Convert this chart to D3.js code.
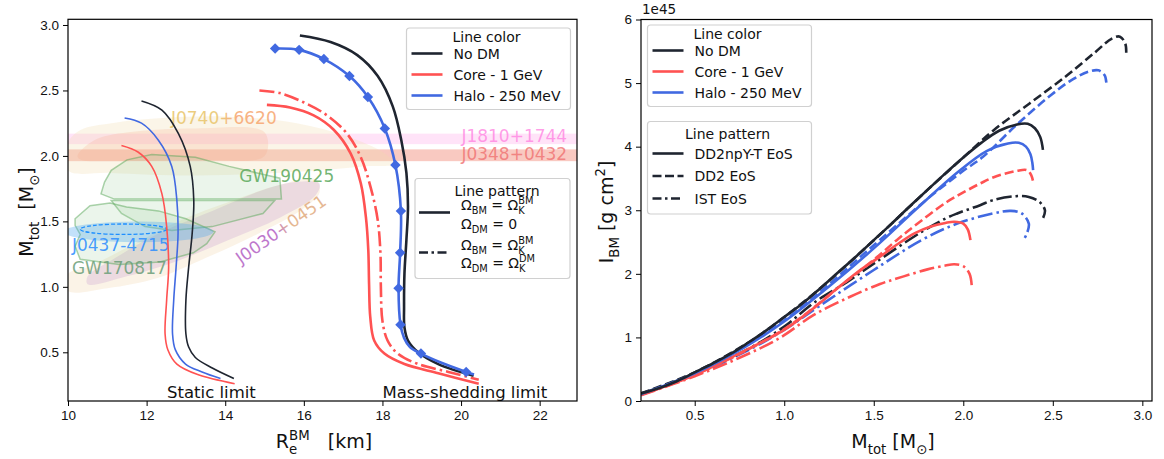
<!DOCTYPE html>
<html>
<head>
<meta charset="utf-8">
<script src="https://cdn.jsdelivr.net/npm/d3@7"></script>
<style>
  body { margin: 0; background: #fff; }
  svg { font-family: "DejaVu Sans", sans-serif; }
</style>
</head>
<body>
<script>
const WIDTH = 1164;
const HEIGHT = 459;

const BLACK = '#1f2530';
const RED = '#ff5252';
const BLUE = '#4169e1';

// ---------- left panel data: M_tot vs R_e ----------
const staticNoDM_R = [11.87, 12.39, 12.81, 13.11, 13.20, 13.16, 13.07, 13.00, 13.00, 13.07, 13.24, 13.67, 14.22];
const staticNoDM_M = [2.42, 2.35, 2.17, 1.92, 1.66, 1.41, 1.15, 0.90, 0.64, 0.54, 0.46, 0.38, 0.30];
const staticHalo_R = [11.44, 11.87, 12.30, 12.64, 12.77, 12.80, 12.75, 12.69, 12.66, 12.73, 12.99, 13.41, 13.88];
const staticHalo_M = [2.29, 2.25, 2.12, 1.92, 1.66, 1.41, 1.15, 0.90, 0.64, 0.52, 0.41, 0.35, 0.30];
const staticCore_R = [11.36, 11.78, 12.13, 12.39, 12.51, 12.56, 12.51, 12.47, 12.54, 12.77, 13.3, 14.24];
const staticCore_M = [2.08, 2.03, 1.92, 1.71, 1.46, 1.15, 0.90, 0.64, 0.52, 0.41, 0.33, 0.26];

const shedNoDM_R = [15.90, 16.68, 17.36, 17.88, 18.26, 18.48, 18.61, 18.65, 18.61, 18.56, 18.55, 18.56, 18.65, 18.91, 19.42, 20.32];
const shedNoDM_M = [2.92, 2.87, 2.77, 2.61, 2.38, 2.12, 1.87, 1.61, 1.36, 1.10, 0.85, 0.69, 0.59, 0.50, 0.41, 0.32];
const shedHalo_R = [15.27, 15.88, 16.51, 17.16, 17.63, 18.06, 18.33, 18.47, 18.45, 18.41, 18.46, 18.55, 18.70, 18.98, 19.5, 20.13, 20.33];
const shedHalo_M = [2.82, 2.81, 2.74, 2.61, 2.45, 2.21, 1.93, 1.58, 1.26, 0.99, 0.71, 0.61, 0.54, 0.49, 0.42, 0.35, 0.33];
const haloMark_R = [15.27, 15.88, 16.51, 17.16, 17.63, 18.06, 18.33, 18.47, 18.45, 18.41, 18.46, 18.98, 20.13];
const haloMark_M = [2.82, 2.81, 2.74, 2.61, 2.45, 2.21, 1.93, 1.58, 1.26, 0.99, 0.71, 0.49, 0.35];
const shedCore_R = [15.06, 15.65, 16.25, 16.76, 17.19, 17.45, 17.58, 17.64, 17.66, 17.69, 17.79, 18.05, 18.56, 19.42, 20.45];
const shedCore_M = [2.39, 2.37, 2.31, 2.20, 2.02, 1.79, 1.53, 1.28, 1.02, 0.77, 0.59, 0.49, 0.41, 0.34, 0.26];
const shedCoreDM_R = [14.87, 15.39, 15.99, 16.59, 17.10, 17.45, 17.70, 17.88, 17.95, 17.96, 18.00, 18.13, 18.39, 18.91, 19.68, 20.45];
const shedCoreDM_M = [2.50, 2.48, 2.41, 2.31, 2.17, 1.99, 1.76, 1.51, 1.25, 1.00, 0.74, 0.59, 0.49, 0.41, 0.35, 0.29];

// observational constraints
const bandJ1810 = [2.09, 2.17];
const bandJ0348 = [1.96, 2.05];
const j0740Outer_R = [10.0, 10.33, 11.10, 12.39, 14.10, 15.82, 17.10, 18.05, 18.31, 17.53, 15.82, 13.24, 11.10, 10.0];
const j0740Outer_M = [2.10, 2.20, 2.25, 2.29, 2.30, 2.25, 2.15, 2.02, 1.94, 1.92, 1.88, 1.85, 1.87, 1.89];
const j0740Inner_R = [10.24, 10.67, 11.53, 13.24, 15.0, 15.0, 13.24, 11.10, 10.33];
const j0740Inner_M = [2.00, 2.12, 2.18, 2.21, 2.18, 2.00, 1.97, 1.96, 1.97];
const gw190425a_R = [11.18, 10.84, 10.93, 11.10, 11.5, 12.13, 13.24, 14.10, 15.39, 15.43];
const gw190425a_M = [1.67, 1.71, 1.80, 1.89, 1.97, 2.01, 1.99, 1.92, 1.83, 1.67];
const gw190425b_R = [11.10, 11.36, 11.96, 12.64, 13.67, 14.96, 15.26];
const gw190425b_M = [1.66, 1.56, 1.46, 1.43, 1.46, 1.56, 1.66];
const gw170817_R = [10.18, 10.56, 11.07, 11.49, 12.3, 13.0, 13.74, 13.53, 13.19, 12.34, 11.3, 10.31, 10.18, 10.31, 10.18];
const gw170817_M = [1.52, 1.62, 1.64, 1.61, 1.58, 1.52, 1.42, 1.33, 1.26, 1.19, 1.17, 1.21, 1.31, 1.40, 1.47];
const j0030a_R = [10.5, 11.5, 12.8, 14.1, 15.4, 16.3, 16.4, 15.8, 14.96, 13.67, 12.39, 11.2, 10.5];
const j0030a_M = [1.02, 1.08, 1.20, 1.36, 1.53, 1.70, 1.79, 1.80, 1.74, 1.58, 1.42, 1.22, 1.08];
const j0030b_R = [10.0, 11.0, 12.3, 13.5, 14.8, 16.0, 16.4, 16.3, 15.4, 14.2, 12.8, 11.5, 10.5, 10.0];
const j0030b_M = [0.97, 0.99, 1.07, 1.22, 1.40, 1.60, 1.72, 1.82, 1.78, 1.66, 1.50, 1.30, 1.15, 1.10];
const j0437Fill = { r: 11.8, m: 1.42, dr: 1.9, dm: 0.08 };
const j0437Dash = { r: 11.41, m: 1.44, dr: 1.1, dm: 0.04 };

// ---------- right panel data: I_BM (1e45 g cm^2) vs M_tot ----------
const dd2npyNoDM_M = [0.2, 0.3, 0.4, 0.5, 0.6, 0.7, 0.8, 0.9, 1.0, 1.1, 1.2, 1.3, 1.4, 1.5, 1.6, 1.7, 1.8, 1.9, 2.0, 2.1, 2.2, 2.3, 2.36, 2.4, 2.43, 2.445];
const dd2npyNoDM_I = [0.12, 0.2, 0.31, 0.45, 0.59, 0.74, 0.92, 1.11, 1.32, 1.53, 1.77, 2.02, 2.27, 2.53, 2.79, 3.06, 3.32, 3.58, 3.83, 4.06, 4.25, 4.35, 4.36, 4.29, 4.15, 3.95];
const dd2npyHalo_M = [0.2, 0.5, 0.77, 1.0, 1.25, 1.5, 1.75, 1.97, 2.13, 2.25, 2.31, 2.35, 2.375, 2.386, 2.39];
const dd2npyHalo_I = [0.11, 0.435, 0.83, 1.25, 1.80, 2.40, 3.05, 3.60, 3.93, 4.05, 4.06, 4.0, 3.88, 3.74, 3.63];
const dd2npyCore_M = [0.2, 0.5, 0.75, 1.0, 1.16, 1.3, 1.41, 1.535, 1.65, 1.73, 1.815, 1.9, 1.95, 2.0, 2.025, 2.04];
const dd2npyCore_I = [0.1, 0.41, 0.75, 1.12, 1.45, 1.78, 2.03, 2.27, 2.5, 2.64, 2.74, 2.8, 2.82, 2.79, 2.7, 2.53];

const dd2NoDM_M = [0.2, 0.5, 0.8, 1.0, 1.2, 1.4, 1.6, 1.8, 2.0, 2.17, 2.37, 2.57, 2.73, 2.83, 2.875, 2.905, 2.91];
const dd2NoDM_I = [0.12, 0.45, 0.92, 1.32, 1.77, 2.27, 2.79, 3.32, 3.83, 4.26, 4.68, 5.10, 5.47, 5.70, 5.73, 5.62, 5.47];
const dd2Halo_M = [0.2, 0.5, 1.0, 1.5, 1.8, 2.0, 2.11, 2.3, 2.485, 2.6, 2.7, 2.755, 2.79, 2.80];
const dd2Halo_I = [0.11, 0.44, 1.27, 2.45, 3.18, 3.62, 3.84, 4.35, 4.80, 5.04, 5.18, 5.20, 5.12, 4.97];
const dd2Core_M = [0.2, 0.5, 1.0, 1.3, 1.5, 1.628, 1.721, 1.908, 2.0, 2.094, 2.17, 2.3, 2.356, 2.38, 2.39];
const dd2Core_I = [0.1, 0.41, 1.13, 1.78, 2.22, 2.53, 2.74, 3.13, 3.28, 3.42, 3.52, 3.62, 3.63, 3.55, 3.45];

const istNoDM_M = [0.2, 0.5, 0.8, 1.0, 1.168, 1.35, 1.5, 1.767, 1.908, 1.966, 2.094, 2.166, 2.286, 2.366, 2.426, 2.456, 2.446];
const istNoDM_I = [0.11, 0.43, 0.82, 1.17, 1.55, 1.87, 2.16, 2.66, 2.88, 2.95, 3.08, 3.16, 3.22, 3.21, 3.13, 3.0, 2.88];
const istHalo_M = [0.2, 0.5, 0.8, 1.0, 1.2, 1.5, 1.767, 1.966, 2.166, 2.266, 2.326, 2.366, 2.356, 2.336];
const istHalo_I = [0.1, 0.42, 0.8, 1.12, 1.5, 2.06, 2.53, 2.79, 2.95, 2.99, 2.95, 2.79, 2.64, 2.53];
const istCore_M = [0.2, 0.5, 0.75, 0.968, 1.163, 1.368, 1.535, 1.667, 1.8, 1.9, 1.95, 2.0, 2.035, 2.047];
const istCore_I = [0.09, 0.39, 0.68, 0.98, 1.35, 1.64, 1.84, 1.96, 2.07, 2.13, 2.15, 2.12, 2.0, 1.82];

const leftXTicks = [10, 12, 14, 16, 18, 20, 22];
const leftYTicks = [0.5, 1.0, 1.5, 2.0, 2.5, 3.0];
const rightXTicks = [0.5, 1.0, 1.5, 2.0, 2.5, 3.0];
const rightYTicks = [0, 1, 2, 3, 4, 5, 6];
const colorNames = ['No DM', 'Core - 1 GeV', 'Halo - 250 MeV'];
const colorValues = [BLACK, RED, BLUE];
const eosNames = ['DD2npY-T EoS', 'DD2 EoS', 'IST EoS'];

const DASHED = '9,4';
const DASHDOT = '15,4,2.5,4';
const NB = '\u00a0';

const zip = (a, b) => a.map((v, i) => [v, b[i]]);

// writes text made of normal / sub / sup pieces into a text element
function rich(text, parts, fs) {
    let shift = 0;
    let lastSub = null;
    parts.forEach(function (p) {
        const target = p.sub ? fs * 0.3 : p.sup ? -fs * 0.42 : 0;
        const ts = text.append('tspan')
            .attr('dy', target - shift)
            .style('font-size', (p.sub || p.sup) ? (fs * 0.7) + 'px' : fs + 'px')
            .text(p.t);
        if (p.sup && p.stack && lastSub) {
            ts.attr('dx', -lastSub.node().getComputedTextLength());
        }
        lastSub = p.sub ? ts : null;
        shift = target;
    });
}

const svg = d3.select('body').append('svg')
    .attr('width', WIDTH)
    .attr('height', HEIGHT);

const defs = svg.append('defs');
function gradient(id, c1, c2) {
    const g = defs.append('linearGradient').attr('id', id);
    g.append('stop').attr('offset', '0%').attr('stop-color', c1);
    g.append('stop').attr('offset', '45%').attr('stop-color', c1);
    g.append('stop').attr('offset', '60%').attr('stop-color', c2);
    g.append('stop').attr('offset', '100%').attr('stop-color', c2);
}
gradient('g0740', '#e8c46a', '#f6a56e');
gradient('g0030', '#b25fc2', '#e0aa80');

// ===================== LEFT PANEL =====================
const xL = d3.scaleLinear().domain([10, 22.95]).range([68, 577]);
const yL = d3.scaleLinear().domain([0.128, 3.0435]).range([401, 19.3]);

defs.append('clipPath').attr('id', 'clipL').append('rect')
    .attr('x', 68).attr('y', 19.3).attr('width', 509).attr('height', 381.7);

const left = svg.append('g');
const plotL = left.append('g').attr('clip-path', 'url(#clipL)');

const lineL = d3.line().x(d => xL(d[0])).y(d => yL(d[1])).curve(d3.curveCatmullRom);
const blobL = d3.line().x(d => xL(d[0])).y(d => yL(d[1])).curve(d3.curveCatmullRomClosed);
const polyL = d3.line().x(d => xL(d[0])).y(d => yL(d[1])).curve(d3.curveLinearClosed);

// horizontal mass bands
[[bandJ1810, '#ff8fe4', 0.25], [bandJ0348, '#f0705c', 0.38]].forEach(function (b) {
    plotL.append('rect')
        .attr('x', xL(10)).attr('width', xL(22.95) - xL(10))
        .attr('y', yL(b[0][1])).attr('height', yL(b[0][0]) - yL(b[0][1]))
        .attr('fill', b[1]).attr('fill-opacity', b[2]);
});

plotL.append('path').attr('d', blobL(zip(j0740Outer_R, j0740Outer_M)))
    .attr('fill', '#f1dcae').attr('fill-opacity', 0.28);
plotL.append('path').attr('d', blobL(zip(j0740Inner_R, j0740Inner_M)))
    .attr('fill', '#f4a886').attr('fill-opacity', 0.22);

plotL.append('path').attr('d', blobL(zip(j0030b_R, j0030b_M)))
    .attr('fill', '#f0cfa0').attr('fill-opacity', 0.25);
plotL.append('path').attr('d', blobL(zip(j0030a_R, j0030a_M)))
    .attr('fill', '#b784c9').attr('fill-opacity', 0.22);

[[gw190425a_R, gw190425a_M], [gw190425b_R, gw190425b_M], [gw170817_R, gw170817_M]].forEach(function (p) {
    plotL.append('path').attr('d', polyL(zip(p[0], p[1])))
        .attr('fill', '#9ccc9c').attr('fill-opacity', 0.2)
        .attr('stroke', '#5aa75a').attr('stroke-opacity', 0.5).attr('stroke-width', 1.5);
});

plotL.append('ellipse')
    .attr('cx', xL(j0437Fill.r)).attr('cy', yL(j0437Fill.m))
    .attr('rx', xL(j0437Fill.r + j0437Fill.dr) - xL(j0437Fill.r))
    .attr('ry', yL(j0437Fill.m - j0437Fill.dm) - yL(j0437Fill.m))
    .attr('fill', '#4aa3f0').attr('fill-opacity', 0.33);
plotL.append('ellipse')
    .attr('cx', xL(j0437Dash.r)).attr('cy', yL(j0437Dash.m))
    .attr('rx', xL(j0437Dash.r + j0437Dash.dr) - xL(j0437Dash.r))
    .attr('ry', yL(j0437Dash.m - j0437Dash.dm) - yL(j0437Dash.m))
    .attr('fill', 'none').attr('stroke', '#1e8fff').attr('stroke-width', 1.3)
    .attr('stroke-dasharray', '4,2');

// constraint labels
function label(txt, r, m, color, opts) {
    opts = opts || {};
    const t = plotL.append('text')
        .attr('x', xL(r)).attr('y', yL(m))
        .attr('fill', color)
        .attr('fill-opacity', opts.op || 0.85)
        .attr('text-anchor', opts.anchor || 'start')
        .style('font-size', '17px')
        .text(txt);
    if (opts.rot) t.attr('transform', 'rotate(' + opts.rot + ',' + xL(r) + ',' + yL(m) + ')');
    return t;
}
label('J0740+6620', 12.62, 2.245, 'url(#g0740)');
label('J1810+1744', 22.7, 2.11, '#ff7ee0', { anchor: 'end', op: 0.75 });
label('J0348+0432', 22.7, 1.97, '#f07070', { anchor: 'end', op: 0.8 });
label('GW190425', 14.36, 1.80, '#5aa85a');
label('GW170817', 10.1, 1.10, '#6b9e78');
label('J0437-4715', 10.1, 1.27, '#2b8cff');
label('J0030+0451', 14.4, 1.17, 'url(#g0030)', { rot: -35 });

// static limit curves
[[staticNoDM_R, staticNoDM_M, BLACK], [staticHalo_R, staticHalo_M, BLUE], [staticCore_R, staticCore_M, RED]].forEach(function (c) {
    plotL.append('path').attr('d', lineL(zip(c[0], c[1])))
        .attr('fill', 'none').attr('stroke', c[2]).attr('stroke-width', 1.6);
});

// mass-shedding curves
plotL.append('path').attr('d', lineL(zip(shedCore_R, shedCore_M)))
    .attr('fill', 'none').attr('stroke', RED).attr('stroke-width', 2.6);
plotL.append('path').attr('d', lineL(zip(shedCoreDM_R, shedCoreDM_M)))
    .attr('fill', 'none').attr('stroke', RED).attr('stroke-width', 2.6)
    .attr('stroke-dasharray', DASHDOT);
plotL.append('path').attr('d', lineL(zip(shedNoDM_R, shedNoDM_M)))
    .attr('fill', 'none').attr('stroke', BLACK).attr('stroke-width', 2.6);
plotL.append('path').attr('d', lineL(zip(shedHalo_R, shedHalo_M)))
    .attr('fill', 'none').attr('stroke', BLUE).attr('stroke-width', 2.6);
plotL.selectAll('path.diamond')
    .data(zip(haloMark_R, haloMark_M))
    .enter().append('path')
    .attr('class', 'diamond')
    .attr('d', d3.symbol().type(d3.symbolDiamond2).size(70))
    .attr('transform', d => 'translate(' + xL(d[0]) + ',' + yL(d[1]) + ')')
    .attr('fill', BLUE);

plotL.append('text').attr('x', xL(12.52)).attr('y', yL(0.15))
    .style('font-size', '16.5px').attr('fill', '#111').text('Static limit');
plotL.append('text').attr('x', xL(18.0)).attr('y', yL(0.15))
    .style('font-size', '16.5px').attr('fill', '#111').text('Mass-shedding limit');

// axes
left.append('g').attr('transform', 'translate(0,401)')
    .call(d3.axisBottom(xL).tickValues(leftXTicks).tickSize(5).tickPadding(4).tickFormat(d3.format('d')));
left.append('g').attr('transform', 'translate(68,0)')
    .call(d3.axisLeft(yL).tickValues(leftYTicks).tickSize(5).tickPadding(4).tickFormat(d3.format('.1f')));
left.append('rect').attr('x', 68).attr('y', 19.3).attr('width', 509).attr('height', 381.7)
    .attr('fill', 'none').attr('stroke', '#000').attr('stroke-width', 1.2);

rich(left.append('text').attr('x', 324).attr('y', 448).attr('text-anchor', 'middle').attr('fill', '#111'),
    [{ t: 'R' }, { t: 'e', sub: true }, { t: 'BM', sup: true, stack: true }, { t: NB + NB + NB + '[km]' }], 19);
rich(left.append('text').attr('transform', 'translate(33,212) rotate(-90)')
    .attr('text-anchor', 'middle').attr('fill', '#111'),
    [{ t: 'M' }, { t: 'tot', sub: true }, { t: NB + NB + '[M' }, { t: '⊙', sub: true }, { t: ']' }], 19);

// ===================== RIGHT PANEL =====================
const xR = d3.scaleLinear().domain([0.2, 3.054]).range([641, 1152]);
const yR = d3.scaleLinear().domain([0, 6]).range([401, 19.5]);

defs.append('clipPath').attr('id', 'clipR').append('rect')
    .attr('x', 641).attr('y', 19.5).attr('width', 511).attr('height', 381.5);

const right = svg.append('g');
const plotR = right.append('g').attr('clip-path', 'url(#clipR)');
const lineR = d3.line().x(d => xR(d[0])).y(d => yR(d[1])).curve(d3.curveCatmullRom);

const rightCurves = [
    [istCore_M, istCore_I, RED, DASHDOT],
    [istHalo_M, istHalo_I, BLUE, DASHDOT],
    [istNoDM_M, istNoDM_I, BLACK, DASHDOT],
    [dd2Core_M, dd2Core_I, RED, DASHED],
    [dd2Halo_M, dd2Halo_I, BLUE, DASHED],
    [dd2NoDM_M, dd2NoDM_I, BLACK, DASHED],
    [dd2npyCore_M, dd2npyCore_I, RED, null],
    [dd2npyHalo_M, dd2npyHalo_I, BLUE, null],
    [dd2npyNoDM_M, dd2npyNoDM_I, BLACK, null]
];
rightCurves.forEach(function (c) {
    const p = plotR.append('path').attr('d', lineR(zip(c[0], c[1])))
        .attr('fill', 'none').attr('stroke', c[2]).attr('stroke-width', 2.6);
    if (c[3]) p.attr('stroke-dasharray', c[3]);
});

right.append('g').attr('transform', 'translate(0,401)')
    .call(d3.axisBottom(xR).tickValues(rightXTicks).tickSize(5).tickPadding(4).tickFormat(d3.format('.1f')));
right.append('g').attr('transform', 'translate(641,0)')
    .call(d3.axisLeft(yR).tickValues(rightYTicks).tickSize(5).tickPadding(4).tickFormat(d3.format('d')));
right.append('rect').attr('x', 641).attr('y', 19.5).attr('width', 511).attr('height', 381.5)
    .attr('fill', 'none').attr('stroke', '#000').attr('stroke-width', 1.2);

right.append('text').attr('x', 642).attr('y', 14).style('font-size', '13.5px').attr('fill', '#111').text('1e45');
rich(right.append('text').attr('x', 893).attr('y', 448).attr('text-anchor', 'middle').attr('fill', '#111'),
    [{ t: 'M' }, { t: 'tot', sub: true }, { t: NB + '[M' }, { t: '⊙', sub: true }, { t: ']' }], 19);
rich(right.append('text').attr('transform', 'translate(613,212) rotate(-90)')
    .attr('text-anchor', 'middle').attr('fill', '#111'),
    [{ t: 'I' }, { t: 'BM', sub: true }, { t: NB + '[g cm' }, { t: '2', sup: true }, { t: ']' }], 19);

svg.selectAll('.tick text').style('font-size', '13.5px').attr('fill', '#111');
svg.selectAll('.domain').remove();

// ===================== LEGENDS =====================
function legendBox(g, x, y, w, h) {
    g.append('rect').attr('x', x).attr('y', y).attr('width', w).attr('height', h)
        .attr('rx', 3).attr('fill', '#fff').attr('fill-opacity', 0.85)
        .attr('stroke', '#d0d0d0').attr('stroke-width', 1.2);
}
function handle(g, x1, x2, y, color, dash) {
    const l = g.append('line').attr('x1', x1).attr('x2', x2).attr('y1', y).attr('y2', y)
        .attr('stroke', color).attr('stroke-width', 2.6);
    if (dash) l.attr('stroke-dasharray', dash);
}
function colorLegend(x, y) {
    const g = svg.append('g');
    legendBox(g, x, y, 164, 81.5);
    g.append('text').attr('x', x + 80).attr('y', y + 13.5).attr('text-anchor', 'middle')
        .style('font-size', '14px').attr('fill', '#111').text('Line color');
    colorNames.forEach(function (n, i) {
        const yy = y + 25.5 + i * 21;
        handle(g, x + 5, x + 36, yy, colorValues[i]);
        g.append('text').attr('x', x + 47).attr('y', yy + 5).style('font-size', '14px')
            .attr('fill', '#111').text(n);
    });
}
colorLegend(406.5, 28);
colorLegend(647.5, 25);

// right pattern legend
(function () {
    const g = svg.append('g');
    const x = 647.5, y = 121.5;
    legendBox(g, x, y, 164, 92.5);
    g.append('text').attr('x', x + 80).attr('y', y + 17).attr('text-anchor', 'middle')
        .style('font-size', '14px').attr('fill', '#111').text('Line pattern');
    [null, DASHED, DASHDOT].forEach(function (d, i) {
        const yy = y + 32 + i * 22.5;
        handle(g, x + 5, x + 36, yy, BLACK, d ? (d === DASHED ? '9,3.5' : '9,3.5,2.5,3.5') : null);
        g.append('text').attr('x', x + 47).attr('y', yy + 5).style('font-size', '14px')
            .attr('fill', '#111').text(eosNames[i]);
    });
})();

// left pattern legend
(function () {
    const g = svg.append('g');
    const x = 415, y = 178.5;
    legendBox(g, x, y, 155, 100);
    g.append('text').attr('x', x + 82).attr('y', y + 17).attr('text-anchor', 'middle')
        .style('font-size', '14px').attr('fill', '#111').text('Line pattern');
    handle(g, x + 4, x + 35, y + 34, BLACK);
    handle(g, x + 4, x + 35, y + 74, BLACK, '9,3.5,2.5,3.5');
    const rows = [
        [y + 31, [{ t: 'Ω' }, { t: 'BM', sub: true }, { t: ' = Ω' }, { t: 'K', sub: true }, { t: 'BM', sup: true, stack: true }]],
        [y + 50, [{ t: 'Ω' }, { t: 'DM', sub: true }, { t: ' = 0' }]],
        [y + 71, [{ t: 'Ω' }, { t: 'BM', sub: true }, { t: ' = Ω' }, { t: 'K', sub: true }, { t: 'BM', sup: true, stack: true }]],
        [y + 89, [{ t: 'Ω' }, { t: 'DM', sub: true }, { t: ' = Ω' }, { t: 'K', sub: true }, { t: 'DM', sup: true, stack: true }]]
    ];
    rows.forEach(function (r) {
        rich(g.append('text').attr('x', x + 46).attr('y', r[0]).attr('fill', '#111'), r[1], 14);
    });
})();
</script>
</body>
</html>
